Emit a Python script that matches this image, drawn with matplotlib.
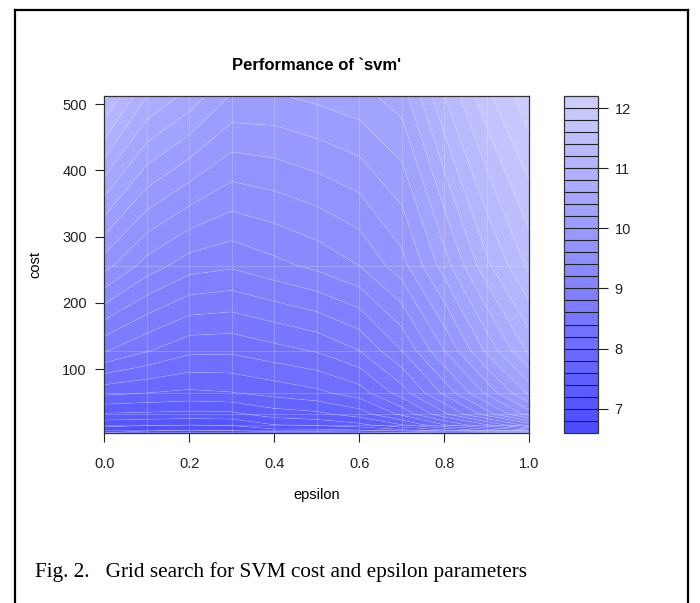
import matplotlib
matplotlib.use("Agg")
import matplotlib.pyplot as plt
from matplotlib.lines import Line2D
import colorsys
import numpy as np

# grid search results (error)
epsilon = [0.0, 0.1, 0.2, 0.3, 0.4, 0.5, 0.6, 0.7, 0.8, 0.9, 1.0]
cost = [4, 8, 16, 32, 64, 128, 256, 512]
performance = [
    [6.80, 6.90, 7.06, 7.38, 7.85, 8.62, 9.68, 11.45],
    [6.72, 6.85, 7.03, 7.36, 7.80, 8.42, 9.31, 10.81],
    [6.68, 6.80, 7.01, 7.34, 7.76, 8.25, 9.09, 10.53],
    [6.66, 6.85, 7.03, 7.35, 7.79, 8.24, 9.03, 10.18],
    [6.70, 6.95, 7.20, 7.50, 7.87, 8.33, 9.14, 10.18],
    [6.70, 6.95, 7.25, 7.55, 7.95, 8.42, 9.25, 10.25],
    [6.72, 7.00, 7.35, 7.70, 8.10, 8.60, 9.40, 10.33],
    [6.75, 7.15, 7.60, 8.05, 8.50, 9.00, 9.72, 10.50],
    [6.80, 7.40, 8.00, 8.55, 9.05, 9.60, 10.30, 11.20],
    [6.85, 7.70, 8.40, 9.10, 9.65, 10.25, 10.95, 11.75],
    [6.95, 8.00, 8.90, 9.70, 10.25, 10.85, 11.45, 12.15],
]
levels = np.round(np.arange(6.6, 12.21, 0.2), 2)
cbar_ticks = [7, 8, 9, 10, 11, 12]
x_ticks = [0.0, 0.2, 0.4, 0.6, 0.8, 1.0]
y_ticks = [100, 200, 300, 400, 500]

# R hsv_palette: hue 2/3, saturation 0.7 -> 0.2
n_bands = len(levels) - 1
sat = np.linspace(0.7, 0.2, n_bands)
band_colors = [colorsys.hsv_to_rgb(2 / 3, s, 1.0) for s in sat]

plt.rcParams['font.family'] = ['Liberation Sans', 'DejaVu Sans']

fig = plt.figure(figsize=(7, 6.03), dpi=100)
W, H = 700, 603

def box(x0, y0, x1, y1):
    return [x0 / W, 1 - y1 / H, (x1 - x0) / W, (y1 - y0) / H]

ax = fig.add_axes(box(104.3, 96.1, 529.3, 432.7))
Z = np.array(performance).T
cs = ax.contourf(epsilon, cost, Z, levels=levels, colors=band_colors, antialiased=True)
ax.contour(epsilon, cost, Z, levels=levels, colors='white', linewidths=0.5, alpha=0.2)
for e in epsilon[1:-1]:
    ax.axvline(e, color='white', lw=0.7, alpha=0.22)
for c in cost[1:-1]:
    ax.axhline(c, color='white', lw=0.7, alpha=0.22)

ax.set_xlim(0, 1)
ax.set_ylim(4, 512)
ax.set_xticks(x_ticks)
ax.set_xticklabels(['%.1f' % v for v in x_ticks])
ax.set_yticks(y_ticks)
ax.tick_params(direction='out', length=6.5, width=0.8, labelsize=10.5, colors='#222222')
ax.tick_params(axis='x', pad=11)
ax.tick_params(axis='y', pad=6)
for sp in ax.spines.values():
    sp.set_linewidth(0.9)
    sp.set_color('#333333')
ax.set_xlabel('epsilon', fontsize=10.5, labelpad=12)
ax.set_ylabel('cost', fontsize=10.5, labelpad=14)
ax.set_title("Performance of `svm'", fontsize=12, fontweight='bold', pad=19)

cax = fig.add_axes(box(564, 96.1, 598, 432.7))
cb = fig.colorbar(cs, cax=cax, drawedges=True)
cb.set_ticks(cbar_ticks)
cb.ax.tick_params(length=7, width=0.8, labelsize=10.5, pad=5, colors='#222222')
cb.outline.set_linewidth(0.9)
cb.outline.set_edgecolor('#333333')
cb.dividers.set_color('#222222')
cb.dividers.set_linewidth(0.8)

# page frame around the figure
frame = dict(color='black', lw=1.6, transform=fig.transFigure)
fig.add_artist(Line2D([15 / W, 15 / W], [0, 1 - 10 / H], **frame))
fig.add_artist(Line2D([15 / W, 688 / W], [1 - 10 / H, 1 - 10 / H], **frame))
fig.add_artist(Line2D([688 / W, 688 / W], [0, 1 - 10 / H], **frame))

fig.text(35 / W, 1 - 572 / H, 'Fig. 2.   Grid search for SVM cost and epsilon parameters',
         family='Liberation Serif', fontsize=15.3, va='center', ha='left')

fig.savefig('out.png', dpi=100)
